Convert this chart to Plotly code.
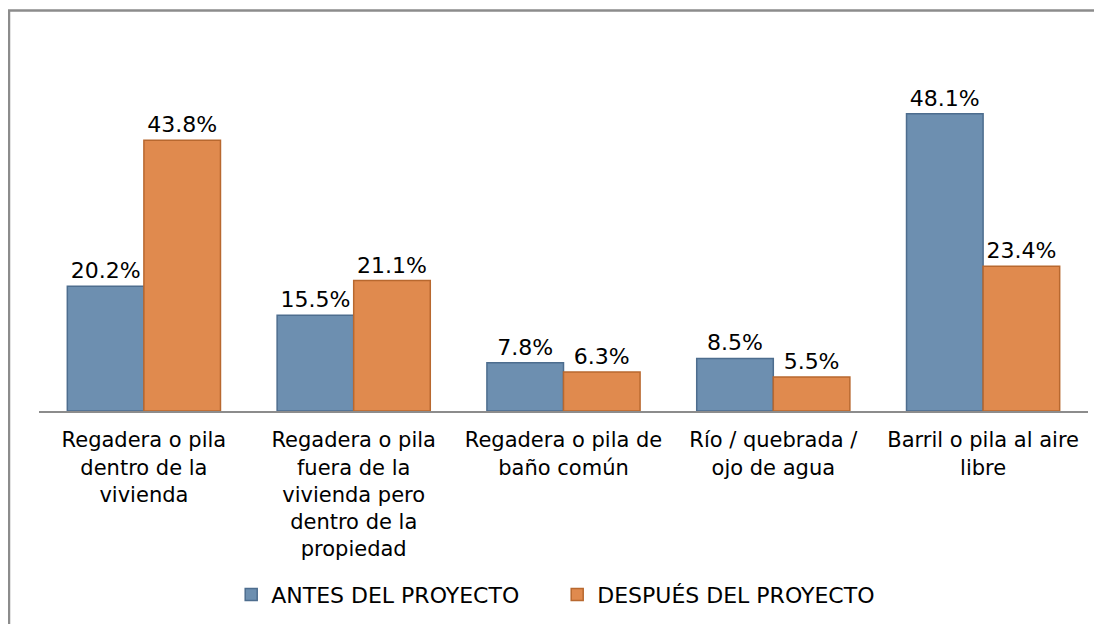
import plotly.graph_objects as go

categories = [
    "Regadera o pila<br>dentro de la<br>vivienda",
    "Regadera o pila<br>fuera de la<br>vivienda pero<br>dentro de la<br>propiedad",
    "Regadera o pila de<br>baño común",
    "Río / quebrada /<br>ojo de agua",
    "Barril o pila al aire<br>libre",
]
antes = [20.2, 15.5, 7.8, 8.5, 48.1]
despues = [43.8, 21.1, 6.3, 5.5, 23.4]
series_names = ["ANTES DEL PROYECTO", "DESPUÉS DEL PROYECTO"]

FONT = "DejaVu Sans"

fig = go.Figure()
fig.add_trace(go.Bar(
    x=categories, y=antes, name=series_names[0],
    marker=dict(color="#6D8FB0", line=dict(color="#4D6D8E", width=1.5)),
    text=[f"{v:.1f}%" for v in antes], textposition="outside",
    textfont=dict(family=FONT, size=22, color="#000000"),
    cliponaxis=False,
))
fig.add_trace(go.Bar(
    x=categories, y=despues, name=series_names[1],
    marker=dict(color="#E08A4E", line=dict(color="#B8682F", width=1.5)),
    text=[f"{v:.1f}%" for v in despues], textposition="outside",
    textfont=dict(family=FONT, size=22, color="#000000"),
    cliponaxis=False,
))

fig.update_layout(
    width=1102, height=624,
    margin=dict(l=31, r=22, t=63, b=221),
    paper_bgcolor="white", plot_bgcolor="white",
    barmode="group", bargap=0.27, bargroupgap=0,
    font=dict(family=FONT, size=21, color="#000000"),
    showlegend=True,
    legend=dict(orientation="h", x=0.494, xanchor="center", y=-0.54, yanchor="middle",
                font=dict(family=FONT, size=22, color="#000000"),
                itemwidth=30, traceorder="normal", entrywidth=281),
    shapes=[dict(type="rect", xref="paper", yref="paper",
                 x0=-0.0286, y0=-1.0, x1=1.2, y1=1.178,
                 line=dict(color="#8C8C8C", width=2.5), layer="below")],
)
fig.update_xaxes(showline=True, linecolor="#8C8C8C", linewidth=2, ticks="",
                 showgrid=False, tickfont=dict(family=FONT, size=21, color="#000000"),
                 ticklabelstandoff=9)
fig.update_yaxes(range=[0, 55], visible=False, showgrid=False, zeroline=False)

fig.write_html("out.html")
